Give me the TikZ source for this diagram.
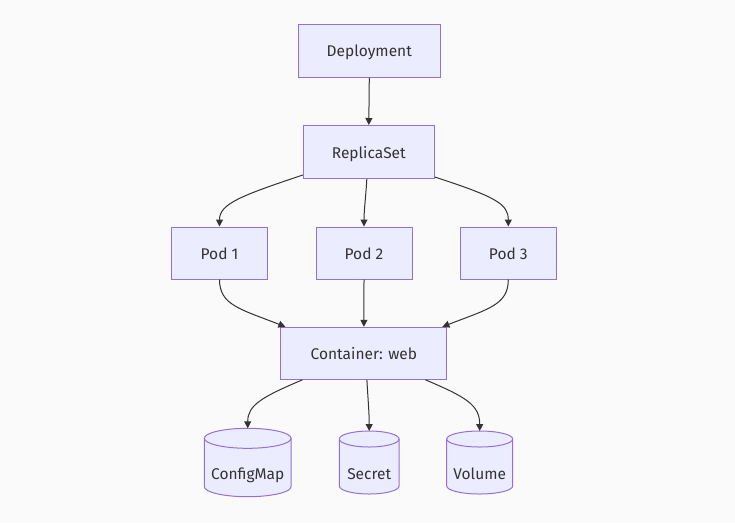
\documentclass[tikz,border=0pt]{standalone}
\usepackage{fontspec}
\setmainfont{Fira Sans}
\usetikzlibrary{arrows.meta,calc}
\definecolor{nodefill}{HTML}{ECECFF}
\definecolor{nodeline}{HTML}{9370DB}
\definecolor{edgecol}{HTML}{333333}
\definecolor{bgcol}{HTML}{FAFAFA}
\newcommand\dbcyl[7]{% name, cx, cy, w, h, ry, text
  \path[cylshape] (#2-#4/2,#3-#5/2+#6) -- (#2-#4/2,#3+#5/2-#6)
    arc[start angle=180,end angle=0,x radius=#4/2,y radius=#6]
    -- (#2+#4/2,#3-#5/2+#6)
    arc[start angle=0,end angle=-180,x radius=#4/2,y radius=#6] -- cycle;
  \draw[cylline] (#2-#4/2,#3-#5/2+#6)
    arc[start angle=180,end angle=0,x radius=#4/2,y radius=#6];
  \node[lbl,minimum width=#4*1pt,minimum height=#5*1pt-2*#6*1pt] (#1) at (#2,#3+10.5) {#7};
  \coordinate (#1top) at (#2,#3-#5/2);
}
\begin{document}
\begin{tikzpicture}[x=1pt,y=-1pt,
  box/.style={draw=nodeline,fill=nodefill,line width=1pt,inner sep=0pt,
    text=edgecol,font=\fontsize{15.5}{18}\selectfont,text height=12pt,text depth=0pt},
  lbl/.style={inner sep=0pt,text=edgecol,font=\fontsize{15.5}{18}\selectfont,text height=12pt,text depth=0pt},
  cylshape/.style={draw=nodeline,fill=nodefill,line width=1pt},
  cylline/.style={draw=nodeline,line width=1pt},
  edge/.style={draw=edgecol,line width=1pt,-{Triangle[length=7pt,width=7pt]}}]
\fill[bgcol] (0,0) rectangle (735,523);
\useasboundingbox (0,0) rectangle (735,523);

\node[box,minimum width=142pt,minimum height=53pt] (dep) at (369.3,50.8) {Deployment};
\node[box,minimum width=131pt,minimum height=53pt] (rs) at (368.8,152) {ReplicaSet};
\node[box,minimum width=96pt,minimum height=52pt] (p1) at (219.5,253) {Pod 1};
\node[box,minimum width=96pt,minimum height=52pt] (p2) at (364,253) {Pod 2};
\node[box,minimum width=96pt,minimum height=52pt] (p3) at (508.3,253) {Pod 3};
\node[box,minimum width=166pt,minimum height=52pt] (ct) at (363.9,353.3) {Container: web};

\dbcyl{cm}{247.7}{462.5}{86.7}{68.4}{10}{ConfigMap}
\dbcyl{sec}{369.2}{462.5}{59.7}{63}{8}{Secret}
\dbcyl{vol}{479.7}{462.5}{66}{63}{8}{Volume}

\draw[edge] (dep.south) -- (rs.north);
\draw[edge] ([yshift=4pt]rs.south west) .. controls (240,196) and (219.5,204) .. (p1.north);
\draw[edge] ([xshift=-2pt]rs.south) .. controls (366,195) and (364,210) .. (p2.north);
\draw[edge] ([yshift=2pt]rs.south east) .. controls (496,197) and (508.3,204) .. (p3.north);

\draw[edge] (p1.south) .. controls (219.5,305) and (240,309) .. ([xshift=5pt]ct.north west);
\draw[edge] (p2.south) -- (ct.north);
\draw[edge] (p3.south) .. controls (508.3,305) and (488,309) .. ([xshift=-5pt]ct.north east);

\draw[edge] ([xshift=22pt]ct.south west) .. controls (262,397) and (247.7,405) .. (cmtop);
\draw[edge] ([xshift=3pt]ct.south) .. controls (368,400) and (369.2,412) .. (sectop);
\draw[edge] ([xshift=-22pt]ct.south east) .. controls (466,397) and (479.7,405) .. (voltop);
\end{tikzpicture}
\end{document}
